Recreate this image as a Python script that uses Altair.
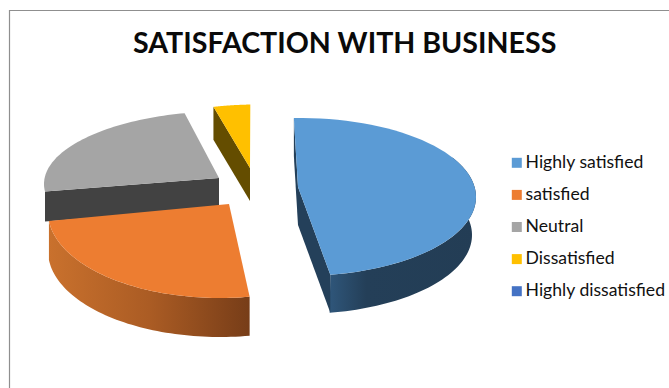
import math
import altair as alt
import pandas as pd

# Survey responses, percentage of respondents per level
categories = ["Highly satisfied", "satisfied", "Neutral", "Dissatisfied", "Highly dissatisfied"]
shares = [47.8, 26.1, 22.8, 3.3, 0.0]
top_colors = ["#5b9bd5", "#ed7d31", "#a5a5a5", "#ffc000", "#4472c4"]

W, H = 669, 388
START_ANGLE = -2.0

# Exploded slice geometry: apex, ellipse centre and radii of each top face,
# plus how far the lower rim drops and narrows to suggest perspective
slice_shape = {
    "Highly satisfied": dict(apex=(298, 187), c=(300, 197), r=(176, 79), depth=38, narrow=4),
    "satisfied": dict(apex=(229, 204), c=(220, 212), r=(172, 86), depth=39, narrow=0),
    "Neutral": dict(apex=(219, 178), c=(229, 184), r=(185, 73), depth=30, narrow=0),
    "Dissatisfied": dict(apex=(250, 168), c=(256.6, 184.5), r=(180, 80), depth=33, narrow=0),
}


def sweep_limits():
    limits, a = {}, START_ANGLE
    for name, share in zip(categories, shares):
        limits[name] = (a, a + share * 3.6)
        a += share * 3.6
    return limits


LIMITS = sweep_limits()


def rim(name, t0, t1, drop=0.0, narrow=0.0, steps=60):
    s = slice_shape[name]
    pts = []
    for k in range(steps + 1):
        t = math.radians(t0 + (t1 - t0) * k / steps)
        pts.append((
            s["c"][0] + (s["r"][0] - narrow) * math.sin(t),
            s["c"][1] - s["r"][1] * math.cos(t) + drop,
        ))
    return pts


def frame(points, **tags):
    return pd.DataFrame([dict(px=p[0], py=p[1], i=i, **tags) for i, p in enumerate(points)])


x_enc = alt.X("px:Q", scale=alt.Scale(domain=[0, W], range=[0, W]), axis=None)
y_enc = alt.Y("py:Q", scale=alt.Scale(domain=[0, H], range=[0, H]), axis=None)


def face(points, fill):
    return (
        alt.Chart(frame(points))
        .mark_line(fill=fill, strokeWidth=0, strokeOpacity=0)
        .encode(x=x_enc, y=y_enc, order=alt.Order("i:Q"))
    )


def side_wall(name, t0, t1, fill):
    s = slice_shape[name]
    return face(rim(name, t0, t1) + rim(name, t0, t1, s["depth"], s["narrow"])[::-1], fill)


def cut_face(name, angle, fill):
    s = slice_shape[name]
    d = s["depth"]
    edge = rim(name, angle, angle, steps=1)[0]
    ax, ay = s["apex"]
    return face([edge, (edge[0], edge[1] + d), (ax, ay + d), (ax, ay)], fill)


def h_gradient(stops):
    return alt.Gradient(
        gradient="linear", x1=0, x2=1, y1=0, y2=0,
        stops=[alt.GradientStop(offset=o, color=c) for o, c in stops],
    )


lim = LIMITS
walls = [
    cut_face("Neutral", lim["Neutral"][0], "#424242"),
    cut_face("Dissatisfied", lim["Dissatisfied"][0], "#644d00"),
    side_wall("satisfied", lim["satisfied"][0], lim["satisfied"][1],
              h_gradient([(0, "#c9712d"), (0.5, "#ab5c24"), (1, "#773d18")])),
    cut_face("Highly satisfied", lim["Highly satisfied"][0], "#24405a"),
    side_wall("Highly satisfied", 60, lim["Highly satisfied"][1],
              h_gradient([(0, "#2f567a"), (0.25, "#243f58"), (1, "#233d55")])),
    cut_face("Highly satisfied", lim["Highly satisfied"][1], "#24405a"),
]

# Top faces carry the colour scale, so the legend lists every response level
tops = []
for name in categories[:4]:
    s = slice_shape[name]
    t0, t1 = LIMITS[name]
    tops.append(frame(rim(name, t0, t1) + [s["apex"]], category=name))
top_layer = (
    alt.Chart(pd.concat(tops))
    .mark_line(strokeWidth=0, strokeOpacity=0)
    .encode(
        x=x_enc,
        y=y_enc,
        order=alt.Order("i:Q"),
        fill=alt.Fill(
            "category:N",
            scale=alt.Scale(domain=categories, range=top_colors),
            legend=alt.Legend(
                title=None, orient="none", legendX=508, legendY=154,
                symbolType="square", symbolSize=100, symbolStrokeWidth=0,
                labelFont="Lato", labelFontSize=17.6, labelColor="#111111",
                labelOffset=0, rowPadding=13.1, labelLimit=200,
            ),
        ),
    )
)

border = alt.Chart(pd.DataFrame({"a": [0]})).mark_rule(color="#8f8f8f", strokeWidth=1.2)
left_rule = border.encode(x=alt.value(9.5), y=alt.value(10), y2=alt.value(H))
top_rule = border.encode(y=alt.value(10.5), x=alt.value(9.5), x2=alt.value(W))

chart = (
    alt.layer(left_rule, top_rule, *walls, top_layer)
    .properties(
        width=W,
        height=H,
        padding=0,
        autosize=alt.AutoSizeParams(type="none"),
        background="white",
        title=alt.TitleParams(
            "SATISFACTION WITH BUSINESS", anchor="start", dx=133, dy=63,
            font="Lato", fontSize=28.6, fontWeight="bold", color="#0a0a0a",
        ),
    )
    .configure_view(stroke=None)
)

chart.save("out.html", embed_options={"renderer": "svg", "actions": False})
